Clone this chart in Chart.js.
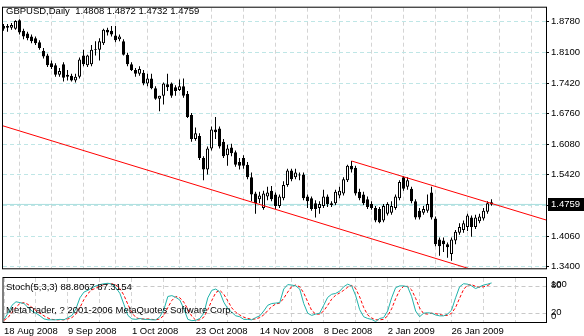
<!DOCTYPE html>
<html>
<head>
<meta charset="utf-8">
<script src="https://cdn.jsdelivr.net/npm/chart.js@4.4.0/dist/chart.umd.min.js"></script>
<style>
  html, body { margin: 0; padding: 0; background: #fff; }
  #wrap { position: relative; width: 584px; height: 336px; overflow: hidden; }
  #priceCanvas { position: absolute; left: 0; top: 0; }
  #stochCanvas { position: absolute; left: 0; top: 276px; }
</style>
</head>
<body>
<div id="wrap">
  <canvas id="priceCanvas" width="584" height="276"></canvas>
  <canvas id="stochCanvas" width="584" height="60"></canvas>
</div>
<script>
/* GBPUSD daily candles + Stoch(5,3,3) sub window */

const symbolTitle = "GBPUSD,Daily  1.4808 1.4872 1.4732 1.4759";
const stochTitle = "Stoch(5,3,3) 88.8067 87.3154";
const copyrightText = "MetaTrader, ? 2001-2006 MetaQuotes Software Corp.";

const opens = [
  1.8675, 1.8633, 1.8633, 1.8612, 1.8801, 1.8570, 1.8507, 1.8444, 1.8402, 1.8318,
  1.8129, 1.8023, 1.7855, 1.7813, 1.7603, 1.7834, 1.7561, 1.7582, 1.7477, 1.7561,
  1.8023, 1.7813, 1.7834, 1.8171, 1.8150, 1.8297, 1.8591, 1.8570, 1.8465, 1.8381,
  1.8339, 1.8044, 1.7834, 1.7708, 1.7624, 1.7645, 1.7414, 1.7519, 1.7309, 1.7078,
  1.7141, 1.7393, 1.7414, 1.7330, 1.7267, 1.7351, 1.7183, 1.6720, 1.6195, 1.6258,
  1.5775, 1.5523, 1.5985, 1.6405, 1.6426, 1.6132, 1.5838, 1.6006, 1.5901, 1.5691,
  1.5775, 1.5628, 1.5354, 1.4997, 1.4871, 1.4682, 1.4934, 1.5060, 1.4976, 1.4724,
  1.4892, 1.5186, 1.5502, 1.5354, 1.5396, 1.5417, 1.4934, 1.4892, 1.4787, 1.4682,
  1.4724, 1.4934, 1.4745, 1.4787, 1.4955, 1.4997, 1.5291, 1.5607, 1.5565, 1.5039,
  1.4976, 1.4871, 1.4766, 1.4682, 1.4661, 1.4409, 1.4556, 1.4577, 1.4682, 1.4892,
  1.5354, 1.5144, 1.5102, 1.4829, 1.4619, 1.4577, 1.4619, 1.5018, 1.4451, 1.3989,
  1.3968, 1.3884, 1.3674, 1.3968, 1.4136, 1.4199, 1.4262, 1.4472, 1.4262, 1.4388,
  1.4451, 1.4598, 1.4808
];
const highs = [
  1.8717, 1.8717, 1.8738, 1.8801, 1.8822, 1.8612, 1.8549, 1.8486, 1.8444, 1.8360,
  1.8192, 1.8065, 1.7918, 1.7855, 1.7750, 1.7876, 1.7708, 1.7624, 1.7624, 1.7981,
  1.8150, 1.8044, 1.8255, 1.8339, 1.8402, 1.8612, 1.8633, 1.8675, 1.8675, 1.8486,
  1.8381, 1.8087, 1.7876, 1.7750, 1.7792, 1.7708, 1.7624, 1.7624, 1.7351, 1.7141,
  1.7435, 1.7624, 1.7435, 1.7372, 1.7498, 1.7519, 1.7246, 1.6762, 1.6447, 1.6321,
  1.5817, 1.6027, 1.6468, 1.6678, 1.6468, 1.6195, 1.6069, 1.6090, 1.5943, 1.5775,
  1.5838, 1.5691, 1.5460, 1.5039, 1.5039, 1.5060, 1.5144, 1.5165, 1.5018, 1.4976,
  1.5270, 1.5544, 1.5544, 1.5544, 1.5460, 1.5460, 1.4976, 1.4934, 1.4850, 1.4829,
  1.5081, 1.4976, 1.4829, 1.5081, 1.5144, 1.5354, 1.5628, 1.5712, 1.5607, 1.5102,
  1.5039, 1.4934, 1.4829, 1.4724, 1.4703, 1.4766, 1.4808, 1.4829, 1.4976, 1.5291,
  1.5375, 1.5354, 1.5144, 1.4871, 1.4682, 1.4724, 1.4976, 1.5144, 1.4493, 1.4031,
  1.4031, 1.3926, 1.4031, 1.4199, 1.4346, 1.4409, 1.4556, 1.4514, 1.4535, 1.4556,
  1.4682, 1.4829, 1.4872
];
const lows = [
  1.8570, 1.8549, 1.8591, 1.8591, 1.8486, 1.8381, 1.8360, 1.8297, 1.8255, 1.8150,
  1.7960, 1.7771, 1.7729, 1.7561, 1.7561, 1.7456, 1.7477, 1.7456, 1.7435, 1.7519,
  1.7792, 1.7771, 1.7792, 1.8023, 1.7918, 1.8255, 1.8465, 1.8444, 1.8318, 1.8339,
  1.8023, 1.7792, 1.7687, 1.7561, 1.7582, 1.7372, 1.7351, 1.7288, 1.7057, 1.6805,
  1.6952, 1.7246, 1.7099, 1.7141, 1.7246, 1.7099, 1.6657, 1.6132, 1.6153, 1.5733,
  1.5291, 1.5417, 1.5943, 1.6195, 1.5985, 1.5775, 1.5607, 1.5817, 1.5586, 1.5523,
  1.5544, 1.5312, 1.4829, 1.4556, 1.4787, 1.4640, 1.4850, 1.4829, 1.4661, 1.4682,
  1.4850, 1.5144, 1.5270, 1.5312, 1.5291, 1.4850, 1.4682, 1.4619, 1.4472, 1.4556,
  1.4682, 1.4703, 1.4703, 1.4745, 1.4892, 1.4955, 1.5249, 1.5460, 1.4955, 1.4850,
  1.4745, 1.4661, 1.4640, 1.4367, 1.4346, 1.4367, 1.4514, 1.4535, 1.4640, 1.4850,
  1.5060, 1.5081, 1.4787, 1.4430, 1.4430, 1.4535, 1.4577, 1.4430, 1.3842, 1.3632,
  1.3716, 1.3590, 1.3526, 1.3884, 1.4094, 1.4136, 1.4178, 1.4052, 1.4220, 1.4346,
  1.4409, 1.4556, 1.4732
];
const closes = [
  1.8612, 1.8675, 1.8696, 1.8780, 1.8528, 1.8444, 1.8402, 1.8339, 1.8297, 1.8192,
  1.8002, 1.7813, 1.7771, 1.7603, 1.7687, 1.7540, 1.7603, 1.7477, 1.7561, 1.7939,
  1.7834, 1.8023, 1.8150, 1.8150, 1.8339, 1.8591, 1.8528, 1.8486, 1.8360, 1.8444,
  1.8044, 1.7834, 1.7708, 1.7624, 1.7729, 1.7414, 1.7519, 1.7309, 1.7078, 1.7141,
  1.7414, 1.7330, 1.7141, 1.7246, 1.7351, 1.7141, 1.6678, 1.6195, 1.6321, 1.5775,
  1.5523, 1.5985, 1.6405, 1.6342, 1.6027, 1.5817, 1.5985, 1.5880, 1.5628, 1.5607,
  1.5607, 1.5354, 1.4976, 1.4787, 1.4955, 1.4997, 1.5018, 1.4871, 1.4724, 1.4934,
  1.5186, 1.5502, 1.5312, 1.5460, 1.5417, 1.4892, 1.4829, 1.4661, 1.4661, 1.4766,
  1.4934, 1.4766, 1.4787, 1.5039, 1.5060, 1.5312, 1.5607, 1.5523, 1.4997, 1.4892,
  1.4787, 1.4703, 1.4682, 1.4409, 1.4367, 1.4724, 1.4766, 1.4724, 1.4934, 1.5249,
  1.5102, 1.5291, 1.4829, 1.4472, 1.4472, 1.4661, 1.4766, 1.4472, 1.3884, 1.3842,
  1.3884, 1.3821, 1.3989, 1.4157, 1.4262, 1.4346, 1.4514, 1.4262, 1.4472, 1.4493,
  1.4619, 1.4787, 1.4759
];

// %K (main) and %D (signal)
const stochMain = [
   6, 20, 38, 46, 44, 42, 33, 25, 20, 14,  7,  5,  5,  5,  6,  5, 10, 15, 30, 55,
  68, 72, 78, 82, 85, 87, 88, 86, 78, 65, 40, 15,  7,  6,  8,  6,  6,  5,  5, 12,
  28, 58, 60, 56, 50, 30,  6,  3,  4,  8, 20, 55, 72, 75, 68, 45, 30, 22, 14, 12,
   6,  6,  5, 10, 14, 25, 38, 42, 43, 44, 75, 85, 84, 82, 75, 42, 20, 15, 18, 20,
  38, 56, 63, 65, 70, 80, 86, 82, 60, 28, 12,  8,  6,  1,  8, 10, 25, 55, 78, 82,
  82, 80, 58, 25, 12, 20, 21, 20, 16, 14, 14, 18, 27, 55, 80, 87, 86, 82, 76, 80,
  84, 86, 88.8067
];
const stochSignal = [
   4, 10, 22, 34, 42, 44, 40, 33, 26, 20, 14,  9,  6,  5,  5,  5,  7, 10, 18, 33,
  51, 65, 73, 77, 82, 85, 87, 87, 84, 76, 61, 40, 21, 10,  7,  7,  7,  6,  5,  7,
  15, 33, 49, 58, 55, 45, 29, 13,  4,  5, 11, 28, 49, 67, 72, 63, 48, 32, 22, 16,
  11,  8,  6,  7, 10, 16, 26, 35, 41, 43, 54, 68, 81, 84, 80, 66, 46, 26, 18, 18,
  25, 38, 52, 61, 66, 72, 79, 83, 76, 57, 33, 16,  9,  5,  5,  6, 14, 30, 53, 72,
  81, 81, 73, 54, 32, 19, 18, 20, 19, 17, 15, 15, 20, 33, 54, 74, 84, 85, 81, 79,
  80, 83, 87.3154
];

const priceTicks = [1.3400, 1.4060, 1.4740, 1.5420, 1.6080, 1.6760, 1.7420, 1.8100, 1.8780];
const dateLabels = ["18 Aug 2008", "9 Sep 2008", "1 Oct 2008", "23 Oct 2008",
                    "14 Nov 2008", "8 Dec 2008", "2 Jan 2009", "26 Jan 2009"];
const stochLevels = [20, 80];
const stochScaleLabels = [100, 80, 20, 0];
const bidPrice = 1.4759;

// channel lines, anchored in (bar, price)
const channelLower = [{ x: -1, y: 1.6506 }, { x: 118, y: 1.3307 }];
const channelUpper = [{ x: 87, y: 1.5712 }, { x: 136, y: 1.4408 }];

/* layout: one bar = 4px, bar 0 centred at x=3.5 */
const barMin = -0.125;
const barMax = 135.625;
const gridEvery = 8;
const labelEvery = 16;
const axisWidth = 38;

const font = { family: "Liberation Sans", size: 9.5 };
Chart.defaults.font.family = font.family;
Chart.defaults.font.size = font.size;
Chart.defaults.color = "#000";

const hGridColor = "#bfe6e6";
const vGridColor = "#d4d4d4";

function xScale(showLabels) {
  return {
    type: "linear",
    min: barMin,
    max: barMax,
    offset: false,
    afterBuildTicks: s => {
      const t = [];
      for (let v = 0; v <= barMax; v += gridEvery) t.push({ value: v });
      s.ticks = t;
    },
    afterFit: s => { s.height = showLabels ? 14 : 0; },
    grid: { color: vGridColor, drawTicks: false },
    border: { display: false, dash: [4, 3] },
    ticks: {
      display: showLabels,
      autoSkip: false,
      maxRotation: 0,
      align: "start",
      padding: 4,
      callback: v => (v % labelEvery === 0 && dateLabels[v / labelEvery]) || ""
    }
  };
}

// black frame around a pane + overlay texts
const paneFrame = {
  id: "paneFrame",
  afterDraw(chart, args, opts) {
    const { ctx, chartArea: a } = chart;
    ctx.save();
    ctx.strokeStyle = "#000";
    ctx.lineWidth = 1;
    ctx.strokeRect(a.left - 0.5, a.top - 0.5, a.right - a.left + 1, a.bottom - a.top + 1);
    ctx.font = font.size + "px " + font.family;
    ctx.fillStyle = "#000";
    ctx.textBaseline = "alphabetic";
    (opts.texts || []).forEach(t => ctx.fillText(t.text, t.x, t.y));
    ctx.restore();
  }
};

// current bid price marker on the right axis
const bidMarker = {
  id: "bidMarker",
  afterDraw(chart) {
    const { ctx, chartArea: a } = chart;
    const y = Math.round(chart.scales.y.getPixelForValue(bidPrice));
    ctx.save();
    ctx.fillStyle = "#000";
    ctx.fillRect(a.right + 2, y - 6, 584 - a.right - 2, 13);
    ctx.fillStyle = "#fff";
    ctx.font = font.size + "px " + font.family;
    ctx.textBaseline = "middle";
    ctx.fillText(bidPrice.toFixed(4), a.right + 5, y + 0.5);
    ctx.restore();
  }
};

// stoch scale labels, kept inside the pane like the terminal does
const stochAxisLabels = {
  id: "stochAxisLabels",
  afterDraw(chart) {
    const { ctx, chartArea: a } = chart;
    const ys = chart.scales.y;
    ctx.save();
    ctx.font = font.size + "px " + font.family;
    ctx.fillStyle = "#000";
    ctx.textBaseline = "middle";
    stochScaleLabels.forEach(v => {
      let y = ys.getPixelForValue(v) - 1;
      y = Math.min(Math.max(y, a.top + 6), a.bottom - 6);
      ctx.fillText(String(v), a.right + 5, y);
    });
    ctx.restore();
  }
};

const wickData = highs.map((h, i) => ({ x: i, y: [lows[i], h] }));
const bodyData = opens.map((o, i) => ({ x: i, y: [o, closes[i]] }));
const bodyFill = opens.map((o, i) => closes[i] >= o ? "#ffffff" : "#000000");

new Chart(document.getElementById("priceCanvas"), {
  type: "bar",
  data: {
    datasets: [
      {
        type: "line",
        data: [{ x: barMin, y: bidPrice }, { x: barMax, y: bidPrice }],
        borderColor: "#a9dede",
        borderWidth: 1,
        pointRadius: 0,
        order: 4
      },
      {
        data: wickData,
        backgroundColor: "#000",
        borderWidth: 0,
        barThickness: 1,
        grouped: false,
        inflateAmount: 0,
        order: 3
      },
      {
        data: bodyData,
        backgroundColor: bodyFill,
        borderColor: "#000",
        borderWidth: 1,
        borderSkipped: false,
        barThickness: 3,
        grouped: false,
        inflateAmount: 0,
        order: 2
      },
      {
        type: "line",
        data: channelLower,
        borderColor: "#ff0000",
        borderWidth: 1,
        pointRadius: 0,
        order: 1
      },
      {
        type: "line",
        data: channelUpper,
        borderColor: "#ff0000",
        borderWidth: 1,
        pointRadius: 0,
        order: 1
      }
    ]
  },
  options: {
    responsive: false,
    animation: false,
    events: [],
    layout: { padding: { left: 3, top: 3, right: 0, bottom: 1 } },
    plugins: {
      legend: { display: false },
      tooltip: { enabled: false },
      paneFrame: { texts: [{ text: symbolTitle, x: 6, y: 14 }] }
    },
    scales: {
      x: xScale(false),
      y: {
        position: "right",
        min: 1.878 - 258 * 0.0021016,
        max: 1.878 + 14 * 0.0021016,
        afterBuildTicks: s => { s.ticks = priceTicks.map(v => ({ value: v })); },
        afterFit: s => { s.width = axisWidth; },
        grid: { color: hGridColor, tickColor: "#000", tickLength: 3 },
        border: { display: false, dash: [4, 3] },
        ticks: { padding: 2, callback: v => v.toFixed(4) }
      }
    }
  },
  plugins: [paneFrame, bidMarker]
});

new Chart(document.getElementById("stochCanvas"), {
  type: "line",
  data: {
    datasets: [
      {
        data: stochSignal.map((v, i) => ({ x: i, y: v })),
        borderColor: "#ff0000",
        borderWidth: 1,
        borderDash: [3, 2],
        pointRadius: 0,
        order: 2
      },
      {
        data: stochMain.map((v, i) => ({ x: i, y: v })),
        borderColor: "#20b2aa",
        borderWidth: 1,
        pointRadius: 0,
        order: 1
      }
    ]
  },
  options: {
    responsive: false,
    animation: false,
    events: [],
    layout: { padding: { left: 3, top: 2, right: 0, bottom: 0 } },
    plugins: {
      legend: { display: false },
      tooltip: { enabled: false },
      paneFrame: {
        texts: [
          { text: stochTitle, x: 6, y: 14 },
          { text: copyrightText, x: 6, y: 37 }
        ]
      }
    },
    scales: {
      x: xScale(true),
      y: {
        position: "right",
        min: 0,
        max: 100,
        afterBuildTicks: s => { s.ticks = stochLevels.map(v => ({ value: v })); },
        afterFit: s => { s.width = axisWidth; },
        grid: { color: "#c8c8c8", drawTicks: false },
        border: { display: false, dash: [4, 3] },
        ticks: { display: false }
      }
    }
  },
  plugins: [paneFrame, stochAxisLabels]
});
</script>
</body>
</html>
